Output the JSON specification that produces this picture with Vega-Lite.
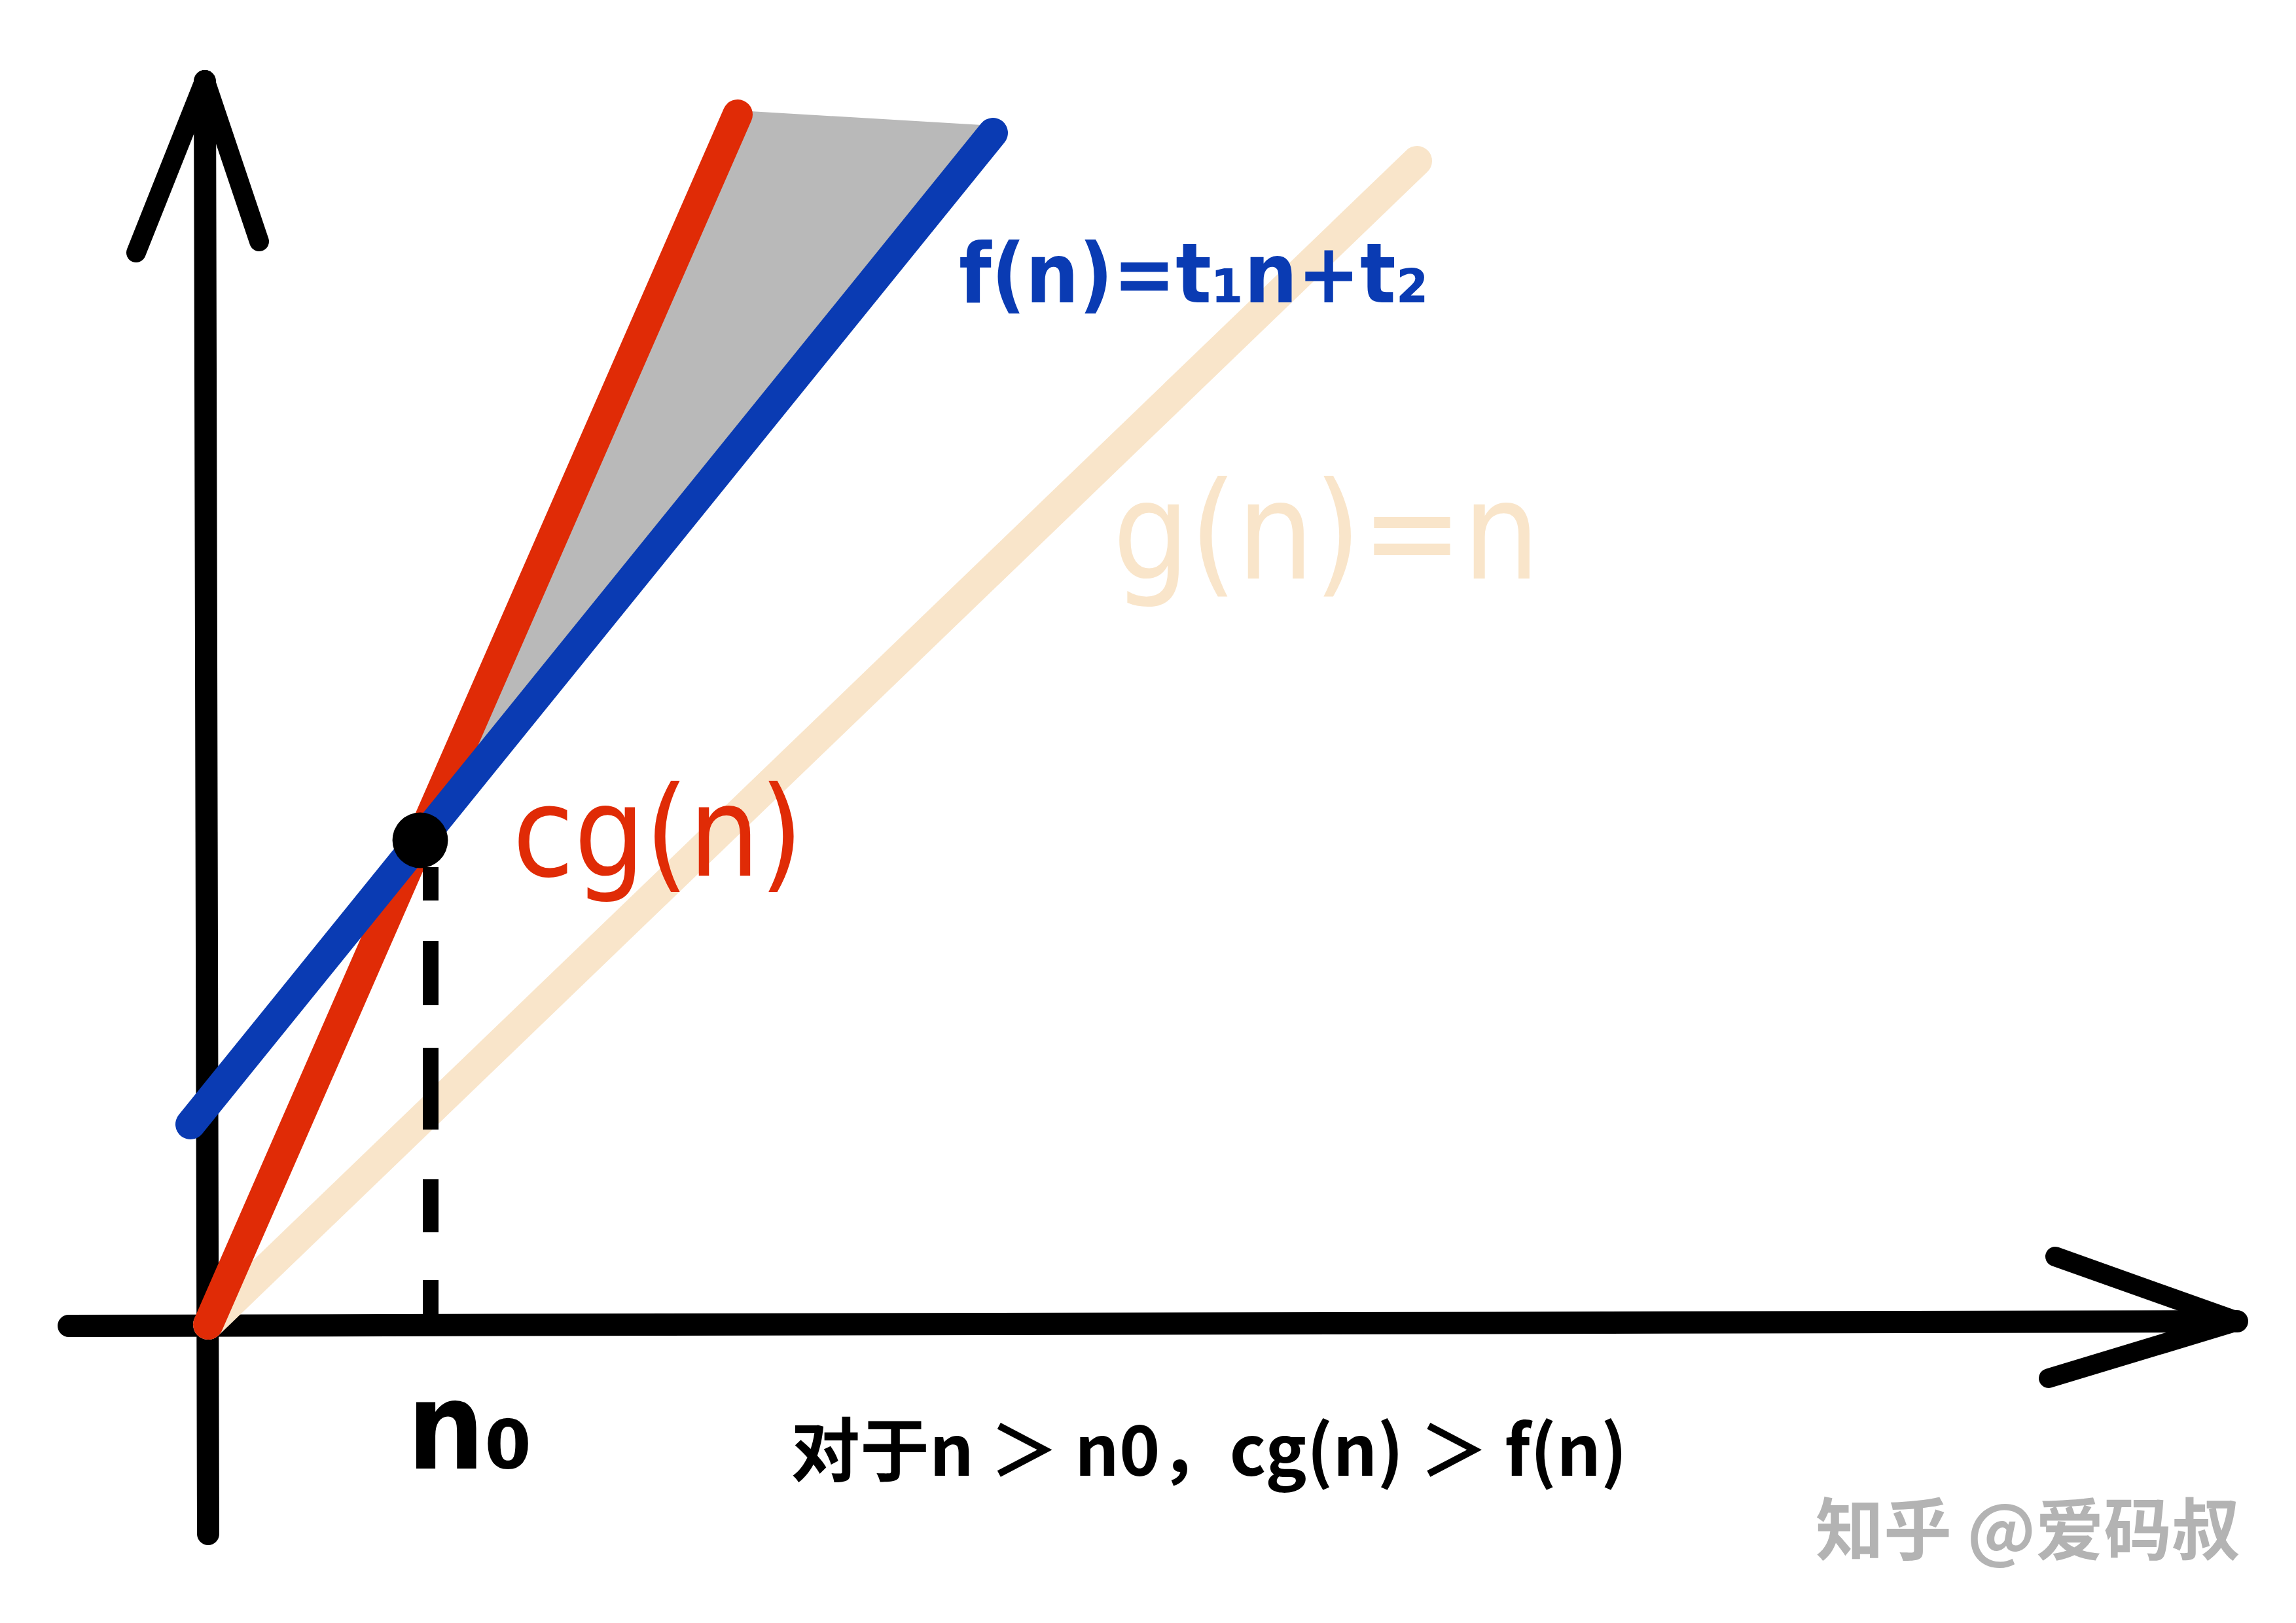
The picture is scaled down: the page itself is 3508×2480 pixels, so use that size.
{
  "$schema": "https://vega.github.io/schema/vega-lite/v6.json",
  "width": 3508,
  "height": 2480,
  "autosize": {"type": "fit", "contains": "padding"},
  "padding": 0,
  "background": "white",
  "config": {"view": {"stroke": null}},
  "encoding": {
    "x": {"field": "n", "type": "quantitative", "scale": {"domain": [-3.18, 31.9], "nice": false, "zero": false}, "axis": null},
    "y": {"field": "v", "type": "quantitative", "scale": {"domain": [-4.56, 20.24], "nice": false, "zero": false}, "axis": null}
  },
  "layer": [
    {
      "data": {"values": [
        {"part": "y axis", "n": -0.05, "v": 19.0, "n2": 0.0, "v2": -3.2},
        {"part": "x axis", "n": -2.13, "v": -0.02, "n2": 31.0, "v2": 0.05}
      ]},
      "mark": {"type": "rule", "color": "#000000", "strokeWidth": 34, "strokeCap": "round"},
      "encoding": {"x2": {"field": "n2"}, "y2": {"field": "v2"}}
    },
    {
      "data": {"values": [
        {"part": "y arrow left", "n": -1.1, "v": 16.38, "n2": -0.05, "v2": 19.02},
        {"part": "y arrow right", "n": 0.78, "v": 16.55, "n2": -0.05, "v2": 19.02},
        {"part": "x arrow upper", "n": 28.22, "v": 1.04, "n2": 31.0, "v2": 0.05},
        {"part": "x arrow lower", "n": 28.12, "v": -0.82, "n2": 31.0, "v2": 0.05}
      ]},
      "mark": {"type": "rule", "color": "#000000", "strokeWidth": 30, "strokeCap": "round"},
      "encoding": {"x2": {"field": "n2"}, "y2": {"field": "v2"}}
    },
    {
      "data": {"values": [
        {"n": 3.24, "v": 7.4, "v2": 7.4},
        {"n": 8.12, "v": 18.55, "v2": 13.43},
        {"n": 11.99, "v": 18.32, "v2": 18.21}
      ]},
      "mark": {"type": "area", "orient": "vertical", "color": "#b9b9b9", "opacity": 1},
      "encoding": {"y2": {"field": "v2"}}
    },
    {
      "data": {"values": [{"series": "g(n)=n", "n": 0, "v": 0, "n2": 18.47, "v2": 17.78}]},
      "mark": {"type": "rule", "color": "#f9e5ca", "strokeWidth": 46, "strokeCap": "round"},
      "encoding": {"x2": {"field": "n2"}, "y2": {"field": "v2"}}
    },
    {
      "data": {"values": [{"label": "g(n)=n", "n": 13.82, "v": 11.4}]},
      "mark": {"type": "text", "align": "left", "baseline": "alphabetic", "font": "DejaVu Sans Condensed, DejaVu Sans, sans-serif", "fontSize": 206, "color": "#f9e5ca"},
      "encoding": {"text": {"field": "label"}}
    },
    {
      "data": {"values": [{"series": "cg(n)", "n": 0, "v": 0, "n2": 8.09, "v2": 18.49}]},
      "mark": {"type": "rule", "color": "#e02b06", "strokeWidth": 46, "strokeCap": "round"},
      "encoding": {"x2": {"field": "n2"}, "y2": {"field": "v2"}}
    },
    {
      "data": {"values": [{"series": "f(n)", "n": -0.27, "v": 3.06, "n2": 11.99, "v2": 18.21}]},
      "mark": {"type": "rule", "color": "#0a3bb3", "strokeWidth": 46, "strokeCap": "round"},
      "encoding": {"x2": {"field": "n2"}, "y2": {"field": "v2"}}
    },
    {
      "data": {"values": [{"label": "f(n)=t₁n+t₂", "n": 11.47, "v": 15.62}]},
      "mark": {"type": "text", "align": "left", "baseline": "alphabetic", "font": "DejaVu Sans Condensed, DejaVu Sans, sans-serif", "fontSize": 127, "fontWeight": "bold", "color": "#0a3bb3"},
      "encoding": {"text": {"field": "label"}}
    },
    {
      "data": {"values": [
        {"n": 3.4, "v": 6.99, "v2": 6.48},
        {"n": 3.4, "v": 5.86, "v2": 4.88},
        {"n": 3.4, "v": 4.23, "v2": 2.98},
        {"n": 3.4, "v": 2.22, "v2": 1.41},
        {"n": 3.4, "v": 0.68, "v2": 0.0}
      ]},
      "mark": {"type": "rule", "color": "#000000", "strokeWidth": 24},
      "encoding": {"y2": {"field": "v2"}}
    },
    {
      "data": {"values": [{"n": 3.24, "v": 7.4}]},
      "mark": {"type": "point", "shape": "circle", "filled": true, "color": "#000000", "opacity": 1, "size": 7200}
    },
    {
      "data": {"values": [{"label": "cg(n)", "n": 4.65, "v": 6.86}]},
      "mark": {"type": "text", "align": "left", "baseline": "alphabetic", "font": "DejaVu Sans Condensed, DejaVu Sans, sans-serif", "fontSize": 190, "color": "#e02b06"},
      "encoding": {"text": {"field": "label"}}
    },
    {
      "data": {"values": [{"label": "n₀", "n": 3.04, "v": -2.2}]},
      "mark": {"type": "text", "align": "left", "baseline": "alphabetic", "font": "DejaVu Sans Condensed, DejaVu Sans, sans-serif", "fontSize": 185, "fontWeight": "bold", "color": "#000000"},
      "encoding": {"text": {"field": "label"}}
    },
    {
      "data": {"values": [{"label": "对于n ＞ n0，cg(n) ＞ f(n)", "n": 8.9, "v": -2.31}]},
      "mark": {"type": "text", "align": "left", "baseline": "alphabetic", "font": "Noto Sans CJK SC", "fontSize": 106, "fontWeight": "bold", "color": "#000000"},
      "encoding": {"text": {"field": "label"}}
    },
    {
      "data": {"values": [{"label": "知乎 @爱码叔", "n": 24.56, "v": -3.52}]},
      "mark": {"type": "text", "align": "left", "baseline": "alphabetic", "font": "Noto Sans CJK SC", "fontSize": 104, "fontWeight": "bold", "color": "#b3b3b3"},
      "encoding": {"text": {"field": "label"}}
    }
  ]
}
